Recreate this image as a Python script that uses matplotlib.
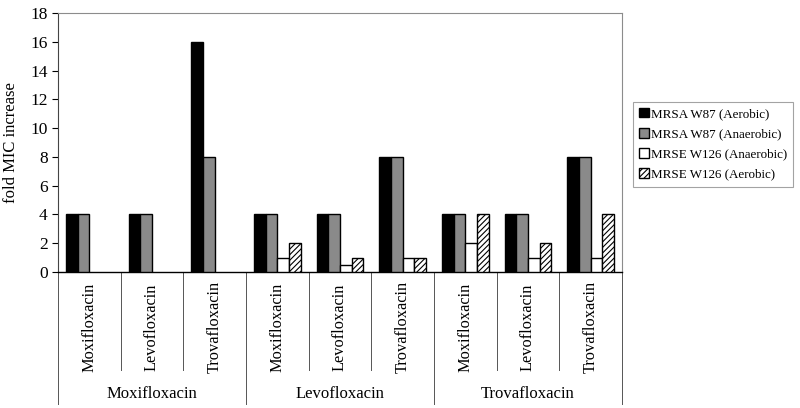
import numpy as np
import matplotlib
matplotlib.use("Agg")
import matplotlib.pyplot as plt
from matplotlib.transforms import blended_transform_factory

plt.rcParams["font.family"] = ["Liberation Serif", "DejaVu Serif"]
plt.rcParams["hatch.linewidth"] = 0.8

# data
outer_labels = ["Moxifloxacin", "Levofloxacin", "Trovafloxacin"]
inner_labels = ["Moxifloxacin", "Levofloxacin", "Trovafloxacin"]
series_names = ["MRSA W87 (Aerobic)", "MRSA W87 (Anaerobic)",
                "MRSE W126 (Anaerobic)", "MRSE W126 (Aerobic)"]
mrsa_aerobic = [4, 4, 16, 4, 4, 8, 4, 4, 8]
mrsa_anaerobic = [4, 4, 8, 4, 4, 8, 4, 4, 8]
mrse_anaerobic = [np.nan, np.nan, np.nan, 1, 0.5, 1, 2, 1, 1]
mrse_aerobic = [np.nan, np.nan, np.nan, 2, 1, 1, 4, 2, 4]

series = [mrsa_aerobic, mrsa_anaerobic, mrse_anaerobic, mrse_aerobic]
styles = [
    dict(color="black", hatch=None),
    dict(color="#8a8a8a", hatch=None),
    dict(color="white", hatch=None),
    dict(color="white", hatch="//////"),
]

fig = plt.figure(figsize=(8, 4.08), dpi=100)
ax = fig.add_axes([58 / 800, 1 - 272 / 408, (622 - 58) / 800, (272 - 13) / 408])

n = len(mrsa_aerobic)
idx = np.arange(n)
bw = 0.186
start = 0.13
for k, (vals, st) in enumerate(zip(series, styles)):
    ax.bar(idx + start + k * bw, vals, width=bw, align="edge",
           color=st["color"], hatch=st["hatch"], edgecolor="black",
           linewidth=1.0, label=series_names[k], zorder=3)

ax.set_xlim(0, n)
ax.set_ylim(0, 18)
ax.set_yticks(range(0, 19, 2))
ax.tick_params(axis="y", labelsize=12.5, length=4, width=0.8, direction="out")
ax.set_xticks([])
ax.set_ylabel("fold MIC increase", fontsize=12, labelpad=8)

for s in ["top", "right"]:
    ax.spines[s].set_color("#8c8c8c")
    ax.spines[s].set_linewidth(0.8)
ax.spines["left"].set_color("#444444")
ax.spines["left"].set_linewidth(0.8)
ax.spines["bottom"].set_color("black")
ax.spines["bottom"].set_linewidth(1.0)

# two-level category axis
trans = blended_transform_factory(ax.transData, ax.transAxes)
for i in range(n + 1):
    bottom = -0.51 if i % 3 == 0 else -0.378
    ax.plot([i, i], [0, bottom], transform=trans, color="#555555",
            linewidth=0.7, clip_on=False)
for i in range(n):
    ax.text(i + 0.5, -0.212, inner_labels[i % 3], transform=trans,
            rotation=90, ha="center", va="center", fontsize=11.8)
for j, lab in enumerate(outer_labels):
    ax.text(j * 3 + 1.5, -0.472, lab, transform=trans,
            ha="center", va="center", fontsize=12)

leg = fig.legend(loc="upper left", bbox_to_anchor=(633 / 800, 1 - 102 / 408),
                 fontsize=9.4, frameon=True, fancybox=False,
                 handlelength=0.75, handleheight=0.75, handletextpad=0.2,
                 labelspacing=0.6, borderpad=0.45, borderaxespad=0)
leg.get_frame().set_edgecolor("#8c8c8c")
leg.get_frame().set_linewidth(0.8)

plt.savefig("out.png", dpi=100)
